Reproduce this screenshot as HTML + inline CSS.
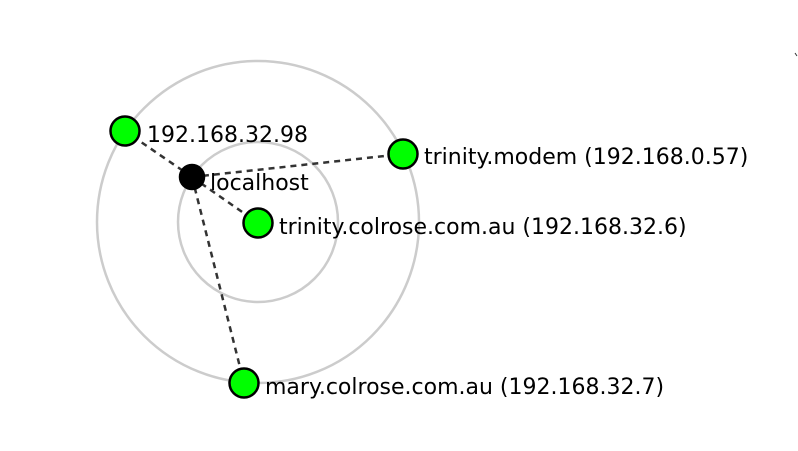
<!DOCTYPE html>
<html><head><meta charset="utf-8"><style>html,body{margin:0;padding:0;background:#fff;}svg{display:block}</style></head>
<body>
<svg width="798" height="451" viewBox="0 0 798 451" xmlns="http://www.w3.org/2000/svg">
<rect width="798" height="451" fill="#fff"/>
<circle cx="258" cy="222" r="80" fill="none" stroke="#cccccc" stroke-width="2.5"/>
<circle cx="258" cy="222" r="161" fill="none" stroke="#cccccc" stroke-width="2.5"/>
<g stroke="#333" stroke-width="2.5" stroke-dasharray="6,5">
<line x1="192" y1="177" x2="125" y2="131"/>
<line x1="192" y1="177" x2="403" y2="154"/>
<line x1="192" y1="177" x2="258" y2="223"/>
<line x1="192" y1="177" x2="244" y2="383"/>
</g>
<g stroke="#000" stroke-width="2.5" fill="#00ff00">
<circle cx="125" cy="131" r="14.5"/>
<circle cx="403" cy="154" r="14.5"/>
<circle cx="258" cy="223" r="14.5"/>
<circle cx="244" cy="383" r="14.5"/>
<circle cx="192" cy="177" r="12" fill="#000"/>
</g>
<g font-family="DejaVu Sans, sans-serif" font-size="22" fill="#000">
<text x="147" y="142">192.168.32.98</text>
<text x="210" y="190">localhost</text>
<text x="424" y="164">trinity.modem (192.168.0.57)</text>
<text x="279" y="234">trinity.colrose.com.au (192.168.32.6)</text>
<text x="265" y="394">mary.colrose.com.au (192.168.32.7)</text>
</g>
<line x1="795" y1="53" x2="797" y2="56" stroke="#333" stroke-width="1"/>
</svg>
</body></html>
